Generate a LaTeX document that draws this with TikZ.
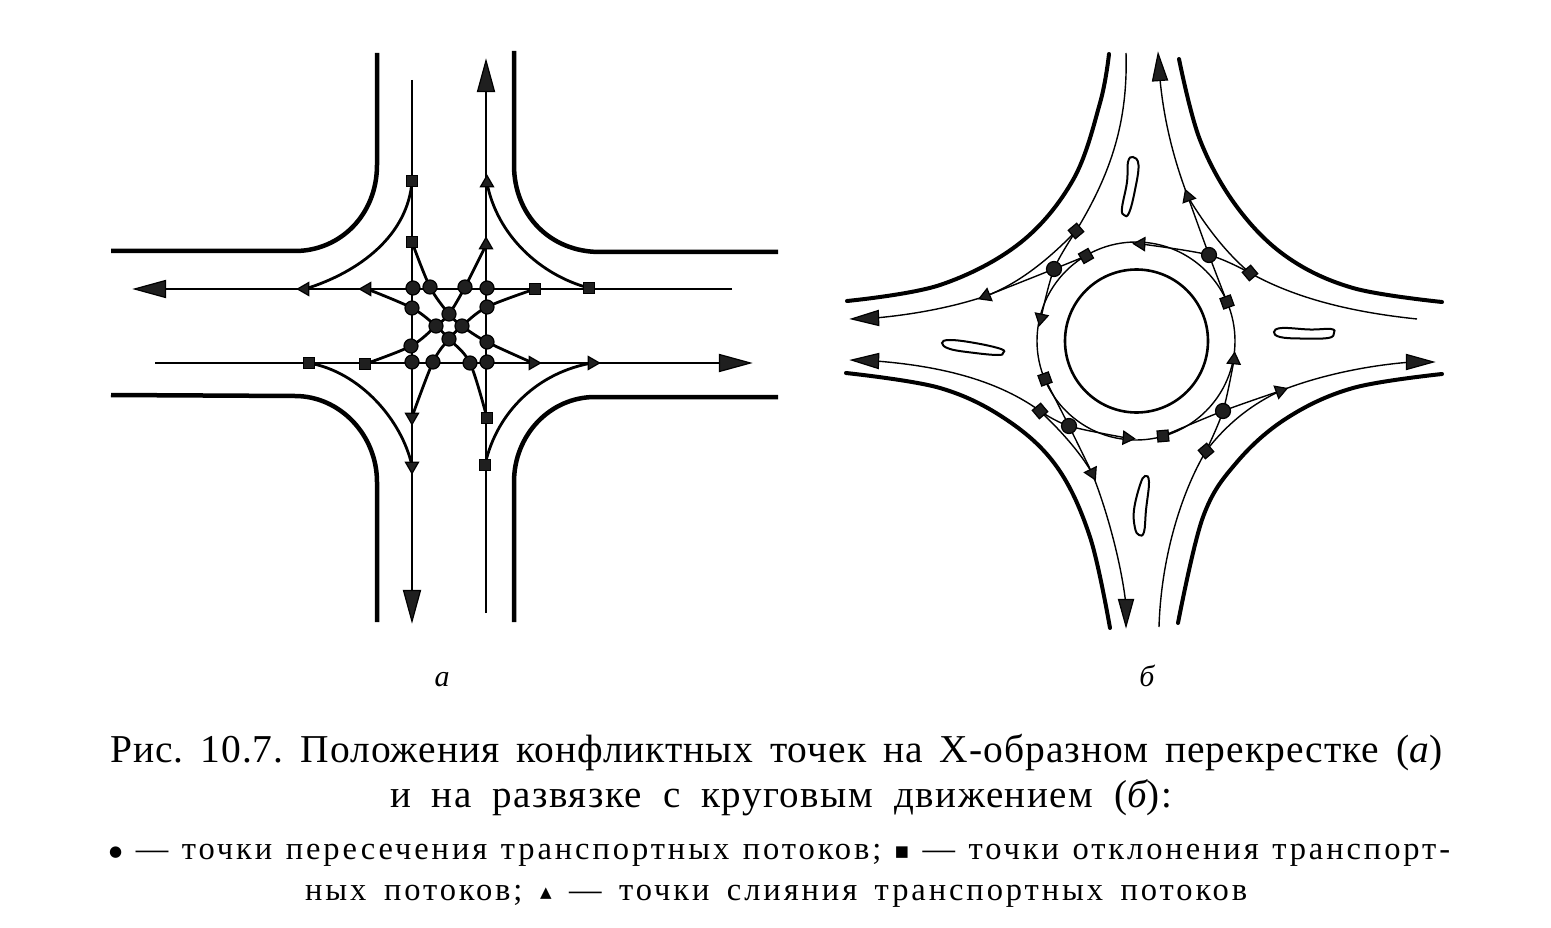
\documentclass[tikz,border=0pt]{standalone}
\usepackage{fontspec}
\setmainfont{Liberation Serif}
\newfontfamily\captfont[LetterSpace=2.5]{Liberation Serif}
\newfontfamily\captwide[LetterSpace=4]{Liberation Serif}
\newfontfamily\legendfont[LetterSpace=9]{Liberation Serif}
\newfontfamily\symfont{DejaVu Sans}
\usetikzlibrary{shapes.geometric,backgrounds}
\tikzset{
  roadA/.style={line width=4.5pt,line cap=butt},
  flowA/.style={line width=2.8pt},
  roadB/.style={line width=4pt,line cap=round},
  flowB/.style={line width=1.4pt},
  island/.style={line width=2pt},
  mark base/.style={draw=black,line width=1.2pt,fill=black!88,inner sep=0pt},
  cA/.style={mark base,circle,minimum size=14pt},
  sA/.style={mark base,rectangle,minimum size=11.5pt},
  tA/.style={mark base,regular polygon,regular polygon sides=3,shape border rotate=-90,minimum size=15pt},
  bigA/.style={mark base,isosceles triangle,isosceles triangle stretches,minimum height=31pt,minimum width=17pt,anchor=apex},
  cB/.style={mark base,circle,minimum size=15pt},
  sB/.style={mark base,rectangle,minimum size=11pt},
  tB/.style={mark base,regular polygon,regular polygon sides=3,shape border rotate=-90,minimum size=15pt},
  bigB/.style={mark base,isosceles triangle,isosceles triangle stretches,minimum height=27pt,minimum width=15pt,anchor=apex},
  capt/.style={anchor=base west,inner sep=0pt,font=\fontsize{39.5}{42}\selectfont\captfont\frenchspacing},
  captw/.style={anchor=base west,inner sep=0pt,font=\fontsize{39}{42}\selectfont\captwide\frenchspacing},
  lgnd/.style={anchor=base west,inner sep=0pt,font=\fontsize{32.5}{34}\selectfont\legendfont\frenchspacing},
  sub/.style={anchor=base,inner sep=0pt,font=\fontsize{30}{32}\selectfont\itshape},
  smoothp/.style={smooth,tension=.55},
}
\begin{document}
\begin{tikzpicture}[x=1pt,y=-1pt]
\useasboundingbox (0,0) rectangle (1551,928);

%% ---------- diagram a: markers ----------
\node[sA] (a1) at (412,181) {};
\node[sA] (a2) at (412,242) {};
\node[sA] (a3) at (589,288) {};
\node[sA] (a4) at (535,289) {};
\node[sA] (a5) at (309,363) {};
\node[sA] (a6) at (365,364) {};
\node[sA] (a7) at (487,418) {};
\node[sA] (a8) at (485,465) {};
\node[tA,rotate=90] (at1) at (487,183) {};
\node[tA,rotate=90] (at2) at (486,245) {};
\node[tA,rotate=180] (at3) at (305,289) {};
\node[tA,rotate=180] (at4) at (367,289) {};
\node[tA] (at5) at (533,363) {};
\node[tA] (at6) at (592,363) {};
\node[tA,rotate=270] (at7) at (412,417) {};
\node[tA,rotate=270] (at8) at (412,466) {};
\node[cA] (c1) at (413,288) {};
\node[cA] (c2) at (430,287) {};
\node[cA] (c3) at (465,287) {};
\node[cA] (c4) at (487,288) {};
\node[cA] (c5) at (412,308) {};
\node[cA] (c6) at (487,307) {};
\node[cA] (c7) at (449,314) {};
\node[cA] (c8) at (436,326) {};
\node[cA] (c9) at (462,326) {};
\node[cA] (c10) at (449,339) {};
\node[cA] (c11) at (411,346) {};
\node[cA] (c12) at (487,342) {};
\node[cA] (c13) at (412,362) {};
\node[cA] (c14) at (433,362) {};
\node[cA] (c15) at (470,363) {};
\node[cA] (c16) at (487,362) {};
\node[bigA,rotate=90] (aN) at (486,59) {};
\node[bigA,rotate=180] (aW) at (133,289) {};
\node[bigA] (aE) at (752,363) {};
\node[bigA,rotate=270] (aS) at (412,623) {};
\coordinate (aSs) at (412,80);
\coordinate (aNs) at (486,613);
\coordinate (aWs) at (732,289);
\coordinate (aEs) at (155,363);

%% ---------- diagram b: markers ----------
\node[circle,draw=black,line width=2.6pt,minimum size=143pt,inner sep=0pt] (hub) at (1136.5,341) {};
\node[circle,draw=black,line width=1.4pt,minimum size=198pt,inner sep=0pt] (ring) at (1136,341) {};
\node[sB,rotate=40] (d1) at (1076,231) {};
\node[sB,rotate=30] (d2) at (1086,256) {};
\node[sB,rotate=20] (d3) at (1045,379) {};
\node[sB,rotate=40] (d4) at (1040,411) {};
\node[sB,rotate=5] (d5) at (1163,436) {};
\node[sB,rotate=40] (d6) at (1206,451) {};
\node[sB,rotate=20] (d7) at (1227,302) {};
\node[sB,rotate=40] (d8) at (1250,273) {};
\node[cB] (k1) at (1054,269) {};
\node[cB] (k2) at (1069,426) {};
\node[cB] (k3) at (1223,411) {};
\node[cB] (k4) at (1209,255) {};
\node[tB,rotate=178] (t1) at (1141,244) {};
\node[tB,rotate=202] (t2) at (986,296) {};
\node[tB,rotate=258] (t3) at (1041,318) {};
\node[tB,rotate=296] (t4) at (1092,473) {};
\node[tB,rotate=-5] (t5) at (1127,438) {};
\node[tB,rotate=20] (t6) at (1280,391) {};
\node[tB,rotate=85] (t7) at (1234,360) {};
\node[tB,rotate=110] (t8) at (1188,197) {};
\node[bigB,rotate=94] (bN) at (1158,52) {};
\node[bigB,rotate=182] (bW1) at (850,319) {};
\node[bigB,rotate=178] (bW2) at (850,360) {};
\node[bigB,rotate=270] (bS) at (1126,628) {};
\node[bigB] (bE) at (1435,362) {};
\coordinate (bNs) at (1126,53);
\coordinate (bEs) at (1417,319);
\coordinate (bSs) at (1159,627);

\begin{pgfonlayer}{background}
%% ---------- diagram a: road edges ----------
\draw[roadA] (377,53) -- (377,165) .. controls (377,215) and (340,251) .. (295,251) -- (111,251);
\draw[roadA] (514,51) -- (514,165) .. controls (514,215) and (550,252) .. (600,252) -- (778,252);
\draw[roadA] (111,395) -- (295,396) .. controls (340,396) and (377,435) .. (377,482) -- (377,622);
\draw[roadA] (778,397) -- (595,397) .. controls (550,397) and (514,435) .. (514,482) -- (514,622);
%% straight flows
\draw[flowA] (aSs) -- (aS.center);
\draw[flowA] (aNs) -- (aN.center);
\draw[flowA] (aWs) -- (aW.center);
\draw[flowA] (aEs) -- (aE.center);
%% right turns
\draw[flowA] (a1.center) .. controls (408,235) and (360,272) .. (at3.center);
\draw[flowA] (a3.center) .. controls (540,275) and (497,235) .. (at1.center);
\draw[flowA] (a8.center) .. controls (497,410) and (540,372) .. (at6.center);
\draw[flowA] (a5.center) .. controls (360,372) and (402,420) .. (at8.center);
%% left turns
\draw[flowA] plot[smoothp] coordinates {(a2.center) (c2.center) (c7.center) (c9.center) (c12.center) (at5.center)};
\draw[flowA] plot[smoothp] coordinates {(a4.center) (c6.center) (c9.center) (c10.center) (c14.center) (at7.center)};
\draw[flowA] plot[smoothp] coordinates {(a7.center) (c15.center) (c10.center) (c8.center) (c5.center) (at4.center)};
\draw[flowA] plot[smoothp] coordinates {(a6.center) (c11.center) (c8.center) (c7.center) (c3.center) (at2.center)};

%% ---------- diagram b: road edges ----------
\draw[roadB] plot[smooth,tension=.6] coordinates {(1109,54) (1100,103) (1073,180) (1020,243) (940,285) (847,301)};
\draw[roadB] plot[smooth,tension=.6] coordinates {(1179,59) (1200,140) (1237,207) (1287,257) (1353,288) (1442,302)};
\draw[roadB] plot[smooth,tension=.6] coordinates {(846,373) (940,388) (1007,420) (1057,467) (1090,537) (1110,628)};
\draw[roadB] plot[smooth,tension=.6] coordinates {(1442,374) (1353,388) (1287,418) (1237,462) (1203,517) (1178,623)};
%% islands
\draw[island] plot[smooth cycle,tension=.7] coordinates {(1133,157) (1138.5,165) (1135,190) (1129,213) (1124,215) (1122,208) (1127,182) (1128,162)};
\draw[island] plot[smooth cycle,tension=.7] coordinates {(1274,332) (1282,328) (1310,329.5) (1331,329) (1334,333) (1328,338) (1300,338.5) (1280,337)};
\draw[island] plot[smooth cycle,tension=.7] coordinates {(942,343) (950,340) (975,343) (1001,349) (1003,353) (998,355) (975,353) (950,349)};
\draw[island] plot[smooth cycle,tension=.7] coordinates {(1145,476) (1149,482) (1146,510) (1144,532) (1139,535) (1135,528) (1134,510) (1140,485)};
%% entries and exits
\draw[flowB] (bNs) .. controls (1128,120) and (1112,172) .. (d1.center);
\draw[flowB] (t8.center) .. controls (1172,155) and (1163,115) .. (bN.center);
\draw[flowB] (d8.center) .. controls (1225,252) and (1205,225) .. (t8.center);
\draw[flowB] plot[smoothp] coordinates {(d8.center) (k4.center) (t1.center)};
\draw[flowB] plot[smoothp] coordinates {(d7.center) (k4.center) (t8.center)};
\draw[flowB] (bEs) .. controls (1350,312) and (1295,298) .. (d8.center);
\draw[flowB] (t2.center) .. controls (950,308) and (910,315) .. (bW1.center);
\draw[flowB] (d1.center) .. controls (1050,258) and (1020,283) .. (t2.center);
\draw[flowB] plot[smoothp] coordinates {(d1.center) (k1.center) (t3.center)};
\draw[flowB] plot[smoothp] coordinates {(d2.center) (k1.center) (t2.center)};
\draw[flowB] (d4.center) .. controls (1000,382) and (945,366) .. (bW2.center);
\draw[flowB] plot[smoothp] coordinates {(d3.center) (k2.center) (t4.center)};
\draw[flowB] plot[smoothp] coordinates {(d4.center) (k2.center) (t5.center)};
\draw[flowB] (d4.center) .. controls (1060,430) and (1080,452) .. (t4.center);
\draw[flowB] (t4.center) .. controls (1105,505) and (1121,560) .. (bS.center);
\draw[flowB] (bSs) .. controls (1161,560) and (1180,495) .. (d6.center);
\draw[flowB] (d6.center) .. controls (1230,420) and (1255,403) .. (t6.center);
\draw[flowB] plot[smoothp] coordinates {(d6.center) (k3.center) (t7.center)};
\draw[flowB] plot[smoothp] coordinates {(d5.center) (k3.center) (t6.center)};
\draw[flowB] (t6.center) .. controls (1320,375) and (1370,365) .. (bE.center);
\end{pgfonlayer}

%% ---------- texts ----------
\node[sub] (la) at (442,686) {а};
\node[sub] (lb) at (1147,686) {б};
\node[capt] (l1) at (110,762) {\makebox[1332pt][s]{Рис. 10.7. Положения конфликтных точек на Х-образном перекрестке ({\itshape а})}};
\node[captw] (l2) at (390,807) {\makebox[782pt][s]{и на развязке с круговым движением ({\itshape б}):}};
\node[lgnd] (l3) at (109,859) {\makebox[1341pt][s]{{\symfont\fontsize{15}{15}\selectfont\raisebox{3pt}{●}} — точки пересечения транспортных потоков; {\symfont\fontsize{15}{15}\selectfont\raisebox{3pt}{■}} — точки отклонения транспорт-}};
\node[lgnd] (l4) at (305,900) {\makebox[942pt][s]{ных потоков; {\symfont\fontsize{15}{15}\selectfont\raisebox{3pt}{▲}} — точки слияния транспортных потоков}};
\end{tikzpicture}
\end{document}
